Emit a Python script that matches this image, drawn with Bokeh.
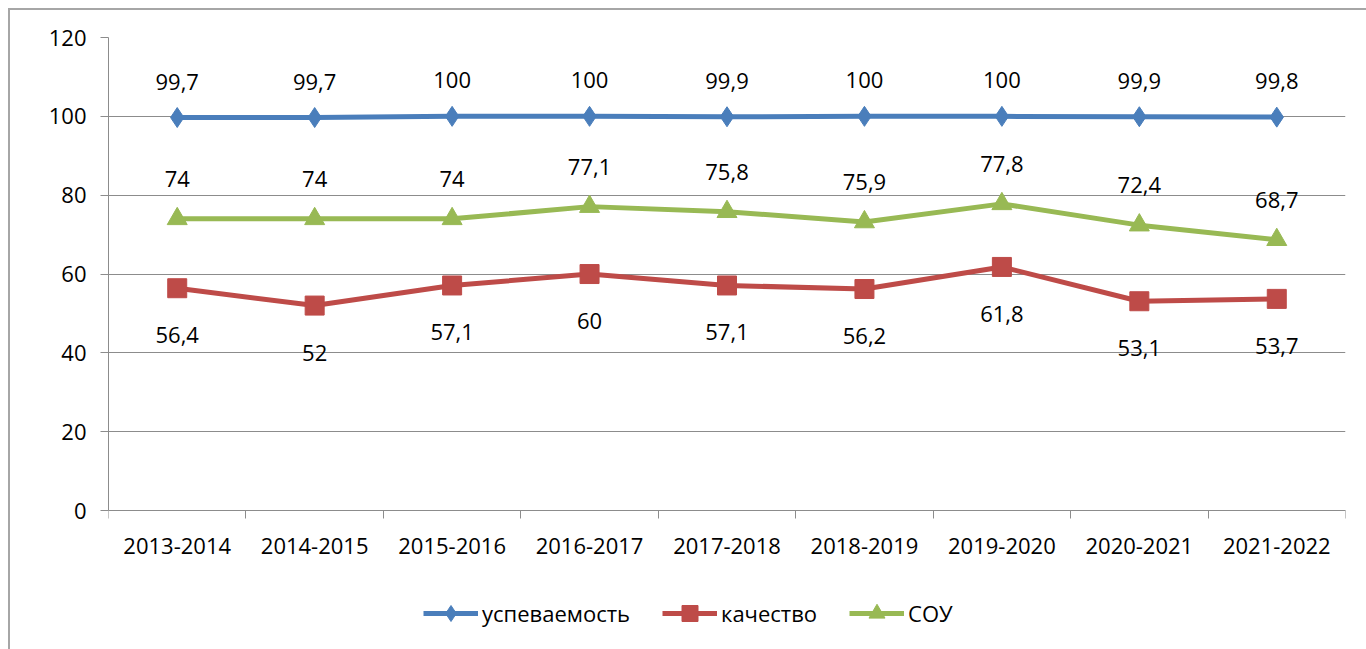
from bokeh.plotting import figure
from bokeh.models import (Range1d, FixedTicker, LinearAxis, CustomJSTickFormatter,
                          Legend, ColumnDataSource)
from bokeh.embed import file_html
from bokeh.resources import INLINE
from bokeh.core.properties import value

categories = ["2013-2014", "2014-2015", "2015-2016", "2016-2017", "2017-2018",
              "2018-2019", "2019-2020", "2020-2021", "2021-2022"]
uspev = [99.7, 99.7, 100, 100, 99.9, 100, 100, 99.9, 99.8]
kachestvo = [56.4, 52, 57.1, 60, 57.1, 56.2, 61.8, 53.1, 53.7]
sou = [74, 74, 74, 77.1, 75.8, 73.2, 77.8, 72.4, 68.7]
sou_labels = ["74", "74", "74", "77,1", "75,8", "75,9", "77,8", "72,4", "68,7"]
y_ticks = [0, 20, 40, 60, 80, 100, 120]


def fmt(v):
    return f"{v:g}".replace(".", ",")


FONT = "Open Sans"
GRID = "#8c8c8c"
xs = [i + 0.5 for i in range(len(categories))]

# frame extends below 0 so that the category labels and the legend sit inside it
Y_MIN = -36.0
PX_PER_UNIT = 473 / 120
FRAME_H = round((120 - Y_MIN) * PX_PER_UNIT)

p = figure(frame_width=1237, frame_height=FRAME_H, output_backend="svg",
           toolbar_location=None,
           x_range=Range1d(0, len(categories)), y_range=Range1d(Y_MIN, 120),
           min_border_left=98, min_border_right=21, min_border_top=27,
           min_border_bottom=0, x_axis_location=None)
p.styles = {"border-left": "2px solid #a6a6a6", "border-top": "2px solid #a6a6a6",
            "margin-left": "8px", "margin-top": "8px"}
p.outline_line_color = None
p.background_fill_color = "white"
p.border_fill_color = "white"

# y axis
p.yaxis.ticker = FixedTicker(ticks=y_ticks)
p.yaxis.bounds = (0, 120)
p.yaxis.axis_line_color = GRID
p.yaxis.major_tick_line_color = GRID
p.yaxis.major_tick_out = 8
p.yaxis.major_tick_in = 0
p.yaxis.minor_tick_line_color = None
p.yaxis.major_label_text_font = FONT
p.yaxis.major_label_text_font_size = "22px"
p.yaxis.major_label_text_color = "black"
p.yaxis.major_label_standoff = 14
p.ygrid.ticker = FixedTicker(ticks=y_ticks)
p.ygrid.grid_line_color = GRID
p.ygrid.grid_line_width = 1
p.xgrid.grid_line_color = None

# x axis: tick marks at category boundaries, fixed at y = 0
xa = LinearAxis(ticker=FixedTicker(ticks=list(range(len(categories) + 1))),
                formatter=CustomJSTickFormatter(code="return '';"),
                fixed_location=0)
xa.major_label_text_font_size = "1px"
xa.axis_line_color = GRID
xa.major_tick_line_color = GRID
xa.major_tick_out = 8
xa.major_tick_in = 0
xa.minor_tick_line_color = None
xa.major_label_standoff = 0
p.add_layout(xa, "below")

# x axis 2: category labels at centres
xb = LinearAxis(ticker=FixedTicker(ticks=xs),
                formatter=CustomJSTickFormatter(args=dict(labels=categories),
                                                code="return labels[Math.floor(tick)];"),
                fixed_location=0)
xb.axis_line_color = None
xb.major_tick_line_color = None
xb.minor_tick_line_color = None
xb.major_tick_out = 0
xb.major_tick_in = 0
xb.major_label_text_font = FONT
xb.major_label_text_font_size = "22px"
xb.major_label_text_color = "black"
xb.major_label_standoff = 27
p.add_layout(xb, "below")

BLUE = "#4a7ebb"
RED = "#be4b48"
GREEN = "#98b954"

series = [
    ("успеваемость", uspev, [fmt(v) for v in uspev], BLUE, "diamond", 20, -36),
    ("качество", kachestvo, [fmt(v) for v in kachestvo], RED, "square", 19, 47),
    ("СОУ", sou, sou_labels, GREEN, "triangle", 20, -40),
]

items = []
for name, vals, labs, color, marker, size, off in series:
    src = ColumnDataSource(dict(x=xs, y=vals, t=labs))
    r1 = p.line("x", "y", source=src, line_color=color, line_width=5)
    r2 = p.scatter("x", "y", source=src, marker=marker, size=size,
                   fill_color=color, line_color=color)
    p.text("x", "y", text="t", source=src, y_offset=off, text_align="center",
           text_baseline="middle", text_font=value(FONT), text_font_size="22px",
           text_color="black")
    items.append((name, [r1, r2]))

legend = Legend(items=items, orientation="horizontal", location=(315, 19))
legend.label_text_font = FONT
legend.label_text_font_size = "22px"
legend.label_text_color = "black"
legend.glyph_width = 55
legend.glyph_height = 40
legend.label_height = 40
legend.label_standoff = 4
legend.spacing = 32
legend.border_line_color = None
legend.background_fill_alpha = 0
legend.margin = 0
legend.padding = 0
p.add_layout(legend, "center")

open("out.html", "w").write(file_html(p, INLINE))
